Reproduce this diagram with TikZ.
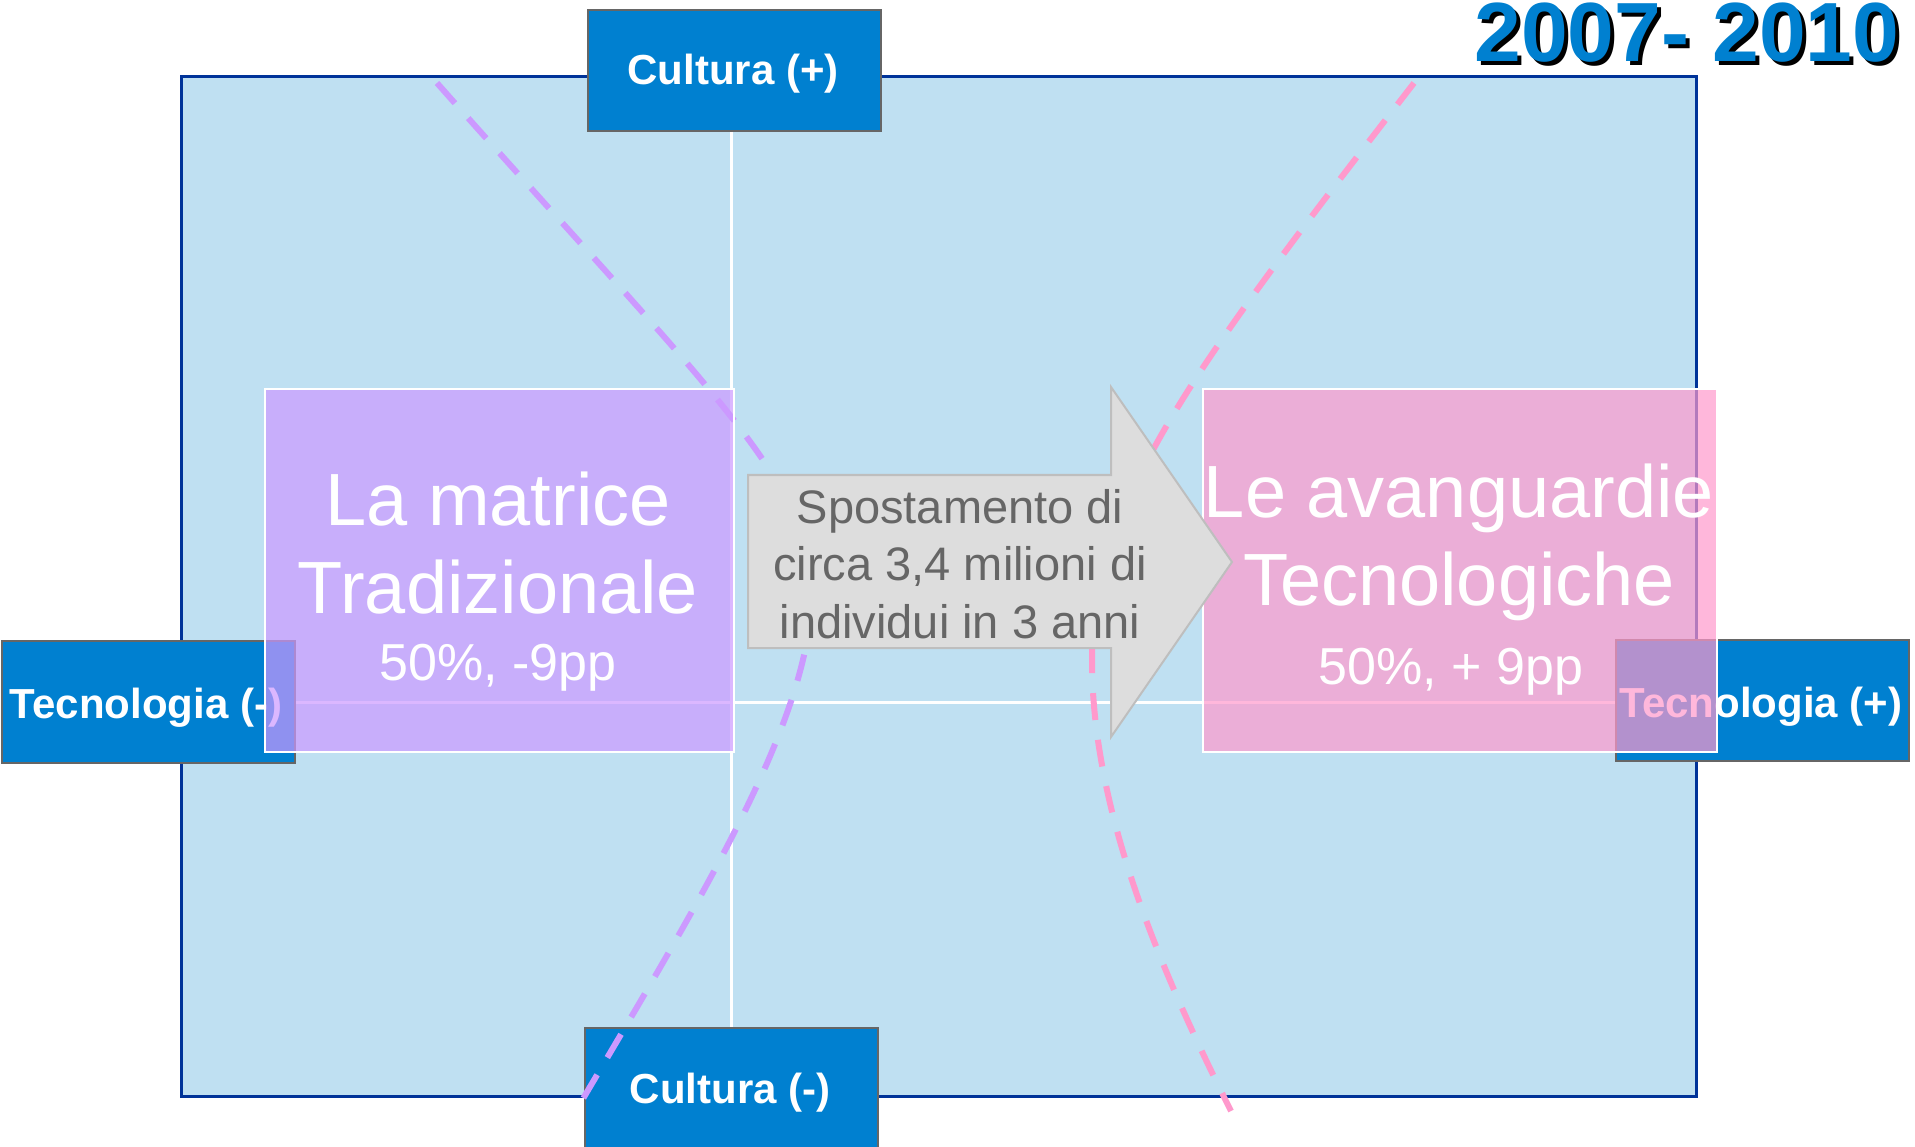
\documentclass[tikz,border=0pt]{standalone}
\usepackage{fontspec}
\setmainfont{Liberation Sans}
\definecolor{bgblue}{RGB}{191,224,242}
\definecolor{frameblue}{RGB}{0,51,153}
\definecolor{boxblue}{RGB}{0,128,208}
\definecolor{boxedge}{RGB}{102,102,102}
\definecolor{lav}{RGB}{204,153,255}
\definecolor{pinkc}{RGB}{255,153,204}
\definecolor{arrowfill}{RGB}{221,221,221}
\definecolor{arrowedge}{RGB}{190,190,190}
\definecolor{arrowtext}{RGB}{102,102,102}
\begin{document}
\begin{tikzpicture}[x=1pt,y=-1pt,
  axisbox/.style={draw=boxedge, line width=2pt, fill=boxblue, inner sep=0pt, anchor=north west, minimum width=293pt},
  axistext/.style={text=white, font=\bfseries\fontsize{42}{50}\selectfont, inner sep=0pt, anchor=base},
  bigtext/.style={text=white, font=\fontsize{74}{88}\selectfont, inner sep=0pt, anchor=base},
  pcttext/.style={text=white, font=\fontsize{52}{62}\selectfont, inner sep=0pt, anchor=base},
  arrtext/.style={text=arrowtext, font=\fontsize{47}{57}\selectfont, inner sep=0pt, anchor=base},
  overlay box/.style={draw=white, line width=2pt, fill opacity=0.7, inner sep=0pt, anchor=north west},
  dashcurve/.style={line width=6pt, dash pattern=on 27pt off 20pt},
  crossline/.style={draw=white, line width=3pt}
]
\useasboundingbox (0,0) rectangle (1915,1147);
% main field
\node[draw=frameblue, line width=3pt, fill=bgblue, inner sep=0pt, anchor=north west,
      minimum width=1515pt, minimum height=1020pt] (field) at (180,75) {};
% axis boxes
\node[axisbox, minimum height=121pt] (cp) at (587,9) {};
\node[axisbox, minimum height=125pt] (cm) at (584,1027) {};
\node[axisbox, minimum height=122pt] (tm) at (1,640) {};
\node[axisbox, minimum height=121pt] (tp) at (1615,639) {};
% cross lines
\draw[crossline] (cm.north |- cp.south) -- (cm.north);
\draw[crossline] (tm.east) -- (tm.east -| tp.west);
% axis labels
\node[axistext] (cpt) at (733,85) {Cultura (+)};
\node[axistext] (cmt) at (730,1103) {Cultura (-)};
\node[axistext] (tmt) at (146,718) {Tecnologia (-)};
\node[axistext] (tpt) at (1761,717) {Tecnologia (+)};
% dashed curves
\draw[dashcurve, draw=lav] (437,83) .. controls (700,380) and (812,480) .. (812,590)
      .. controls (812,720) and (700,900) .. (574,1114);
\draw[dashcurve, draw=pinkc] (1414,83) .. controls (1200,360) and (1092,500) .. (1092,660)
      .. controls (1092,800) and (1150,950) .. (1231,1111);
% overlay boxes
\node[overlay box, fill=lav, minimum width=469pt, minimum height=363pt] (trad) at (264,388) {};
\node[overlay box, fill=pinkc, minimum width=514pt, minimum height=363pt] (avan) at (1202,388) {};
% arrow
\draw[fill=arrowfill, draw=arrowedge, line width=2pt]
  (748,475) -- (1111,475) -- (1111,387) -- (1232,562) -- (1111,737) -- (1111,648) -- (748,648) -- cycle;
% texts
\node[bigtext] (lm1) at (498,525) {La matrice};
\node[bigtext] (lm2) at (498,613) {Tradizionale};
\node[pcttext] (lm3) at (498,680) {50\%, -9pp};
\node[bigtext] (la1) at (1459,517) {Le avanguardie};
\node[bigtext] (la2) at (1459,605) {Tecnologiche};
\node[pcttext] (la3) at (1451,684) {50\%, + 9pp};
\node[arrtext] (sp1) at (960,523) {Spostamento di};
\node[arrtext] (sp2) at (960,580) {circa 3,4 milioni di};
\node[arrtext] (sp3) at (960,638) {individui in 3 anni};
% title
\node[text=black, font=\bfseries\fontsize{84}{96}\selectfont, inner sep=0pt, anchor=base] (titleshadow) at (1691,66) {2007- 2010};
\node[text=boxblue, font=\bfseries\fontsize{84}{96}\selectfont, inner sep=0pt, anchor=base] (title) at (1687,62) {2007- 2010};
\end{tikzpicture}
\end{document}
